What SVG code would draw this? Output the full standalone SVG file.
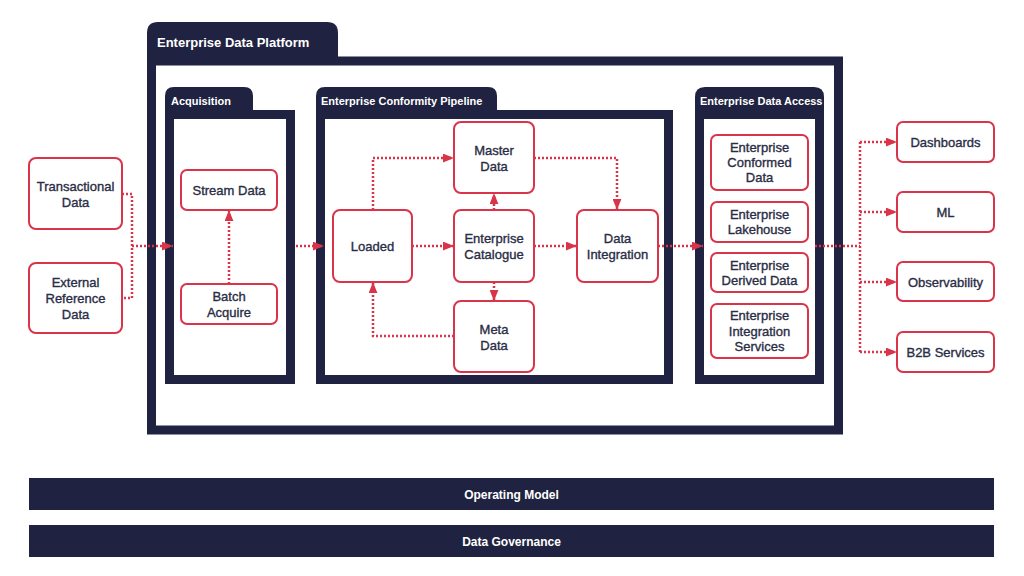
<svg xmlns="http://www.w3.org/2000/svg" width="1024" height="576" viewBox="0 0 1024 576">
<defs>
<style>
.frame{fill:none;stroke:#1f2240;stroke-width:9}
.tab{fill:#1f2240}
.tabt{font-family:"Liberation Sans",Arial,sans-serif;font-weight:bold;fill:#ffffff}
.node{fill:#ffffff;stroke:#d9344a;stroke-width:2}
.nt{font-family:"Liberation Sans",Arial,sans-serif;font-size:13px;fill:#2a2d45;stroke:#2a2d45;stroke-width:0.35;text-anchor:middle}
.bar{fill:#1f2240}
.bt{font-family:"Liberation Sans",Arial,sans-serif;font-size:12px;font-weight:bold;fill:#ffffff;text-anchor:middle}
.con{fill:none;stroke:#d9344a;stroke-width:2.5;stroke-dasharray:2 2}
</style>
<marker id="ah" viewBox="0 0 10 8" refX="10" refY="4" markerWidth="11" markerHeight="9" markerUnits="userSpaceOnUse" orient="auto">
<path d="M0,0 L10,4 L0,8 Z" fill="#d9344a"/>
</marker>
</defs>
<rect width="1024" height="576" fill="#ffffff"/>

<g id="platform">
<path class="tab" d="M147,62 V33 Q147,22 158,22 H327 Q338,22 338,33 V62 Z"/>
<rect class="frame" x="151.5" y="61" width="687" height="369"/>
<text class="tabt" x="157" y="47" font-size="13">Enterprise Data Platform</text>
</g>

<g id="acquisition">
<path class="tab" d="M165,114 V96 Q165,87 174,87 H244 Q253,87 253,96 V114 Z"/>
<rect class="frame" x="169.5" y="114.5" width="121" height="265"/>
<text class="tabt" x="171" y="105" font-size="11">Acquisition</text>
</g>

<g id="pipeline">
<path class="tab" d="M316,114 V96 Q316,87 325,87 H488 Q497,87 497,96 V114 Z"/>
<rect class="frame" x="320.5" y="114.5" width="348" height="265"/>
<text class="tabt" x="321" y="105" font-size="11">Enterprise Conformity Pipeline</text>
</g>

<g id="access">
<path class="tab" d="M695,114 V97 Q695,87 705,87 H814 Q824,87 824,97 V114 Z"/>
<rect class="frame" x="699.5" y="114.5" width="120" height="265"/>
<text class="tabt" x="700" y="105" font-size="11">Enterprise Data Access</text>
</g>

<g id="transactional">
<rect class="node" x="29" y="158" width="93" height="71" rx="7"/>
<text class="nt" x="75.5" y="191">Transactional</text>
<text class="nt" x="75.5" y="207">Data</text>
</g>
<g id="external">
<rect class="node" x="29" y="263" width="93" height="70" rx="7"/>
<text class="nt" x="75.5" y="287">External</text>
<text class="nt" x="75.5" y="303">Reference</text>
<text class="nt" x="75.5" y="319">Data</text>
</g>
<g id="stream">
<rect class="node" x="181" y="170" width="96" height="40" rx="6"/>
<text class="nt" x="229" y="195">Stream Data</text>
</g>
<g id="batch">
<rect class="node" x="181" y="284" width="96" height="40" rx="6"/>
<text class="nt" x="229" y="301">Batch</text>
<text class="nt" x="229" y="317">Acquire</text>
</g>
<g id="loaded">
<rect class="node" x="333" y="210" width="79" height="72" rx="7"/>
<text class="nt" x="372.5" y="251">Loaded</text>
</g>
<g id="master">
<rect class="node" x="454" y="122" width="80" height="71" rx="7"/>
<text class="nt" x="494" y="155">Master</text>
<text class="nt" x="494" y="171">Data</text>
</g>
<g id="catalogue">
<rect class="node" x="454" y="210" width="80" height="72" rx="7"/>
<text class="nt" x="494" y="243">Enterprise</text>
<text class="nt" x="494" y="259">Catalogue</text>
</g>
<g id="meta">
<rect class="node" x="454" y="301" width="80" height="71" rx="7"/>
<text class="nt" x="494" y="334">Meta</text>
<text class="nt" x="494" y="350">Data</text>
</g>
<g id="integration">
<rect class="node" x="577" y="210" width="81" height="72" rx="7"/>
<text class="nt" x="617.5" y="243">Data</text>
<text class="nt" x="617.5" y="259">Integration</text>
</g>
<g id="conformed">
<rect class="node" x="711" y="135" width="97" height="55" rx="6"/>
<text class="nt" x="759.5" y="152">Enterprise</text>
<text class="nt" x="759.5" y="167">Conformed</text>
<text class="nt" x="759.5" y="182">Data</text>
</g>
<g id="lakehouse">
<rect class="node" x="711" y="202" width="97" height="40" rx="6"/>
<text class="nt" x="759.5" y="219">Enterprise</text>
<text class="nt" x="759.5" y="234">Lakehouse</text>
</g>
<g id="derived">
<rect class="node" x="711" y="253" width="97" height="39" rx="6"/>
<text class="nt" x="759.5" y="270">Enterprise</text>
<text class="nt" x="759.5" y="285">Derived Data</text>
</g>
<g id="integration-services">
<rect class="node" x="711" y="304" width="97" height="54" rx="6"/>
<text class="nt" x="759.5" y="320">Enterprise</text>
<text class="nt" x="759.5" y="336">Integration</text>
<text class="nt" x="759.5" y="351">Services</text>
</g>
<g id="dashboards">
<rect class="node" x="897" y="122" width="97" height="40" rx="6"/>
<text class="nt" x="945.5" y="147">Dashboards</text>
</g>
<g id="ml">
<rect class="node" x="897" y="192" width="97" height="40" rx="6"/>
<text class="nt" x="945.5" y="217">ML</text>
</g>
<g id="observability">
<rect class="node" x="897" y="262" width="97" height="39" rx="6"/>
<text class="nt" x="945.5" y="287">Observability</text>
</g>
<g id="b2b">
<rect class="node" x="897" y="332" width="97" height="40" rx="6"/>
<text class="nt" x="945.5" y="357">B2B Services</text>
</g>

<g id="operating-model">
<rect class="bar" x="29" y="478" width="965" height="32"/>
<text class="bt" x="511.5" y="498.5">Operating Model</text>
</g>
<g id="data-governance">
<rect class="bar" x="29" y="525" width="965" height="32"/>
<text class="bt" x="511.5" y="545.5">Data Governance</text>
</g>

<g id="connectors">
<path class="con" d="M122,194 H132 V298 H122"/>
<path class="con" d="M132,246 H173" marker-end="url(#ah)"/>
<path class="con" d="M229,284 V210" marker-end="url(#ah)"/>
<path class="con" d="M296,246 H324" marker-end="url(#ah)"/>
<path class="con" d="M412,246 H454" marker-end="url(#ah)"/>
<path class="con" d="M373,210 V158 H454" marker-end="url(#ah)"/>
<path class="con" d="M494,210 V193" marker-end="url(#ah)"/>
<path class="con" d="M494,282 V301" marker-end="url(#ah)"/>
<path class="con" d="M454,336 H373 V282" marker-end="url(#ah)"/>
<path class="con" d="M534,158 H617 V210" marker-end="url(#ah)"/>
<path class="con" d="M534,246 H577" marker-end="url(#ah)"/>
<path class="con" d="M658,246 H703" marker-end="url(#ah)"/>
<path class="con" d="M815,246 H860"/>
<path class="con" d="M860,142 V352"/>
<path class="con" d="M860,142 H897" marker-end="url(#ah)"/>
<path class="con" d="M860,212 H897" marker-end="url(#ah)"/>
<path class="con" d="M860,282 H897" marker-end="url(#ah)"/>
<path class="con" d="M860,352 H897" marker-end="url(#ah)"/>
</g>
</svg>
